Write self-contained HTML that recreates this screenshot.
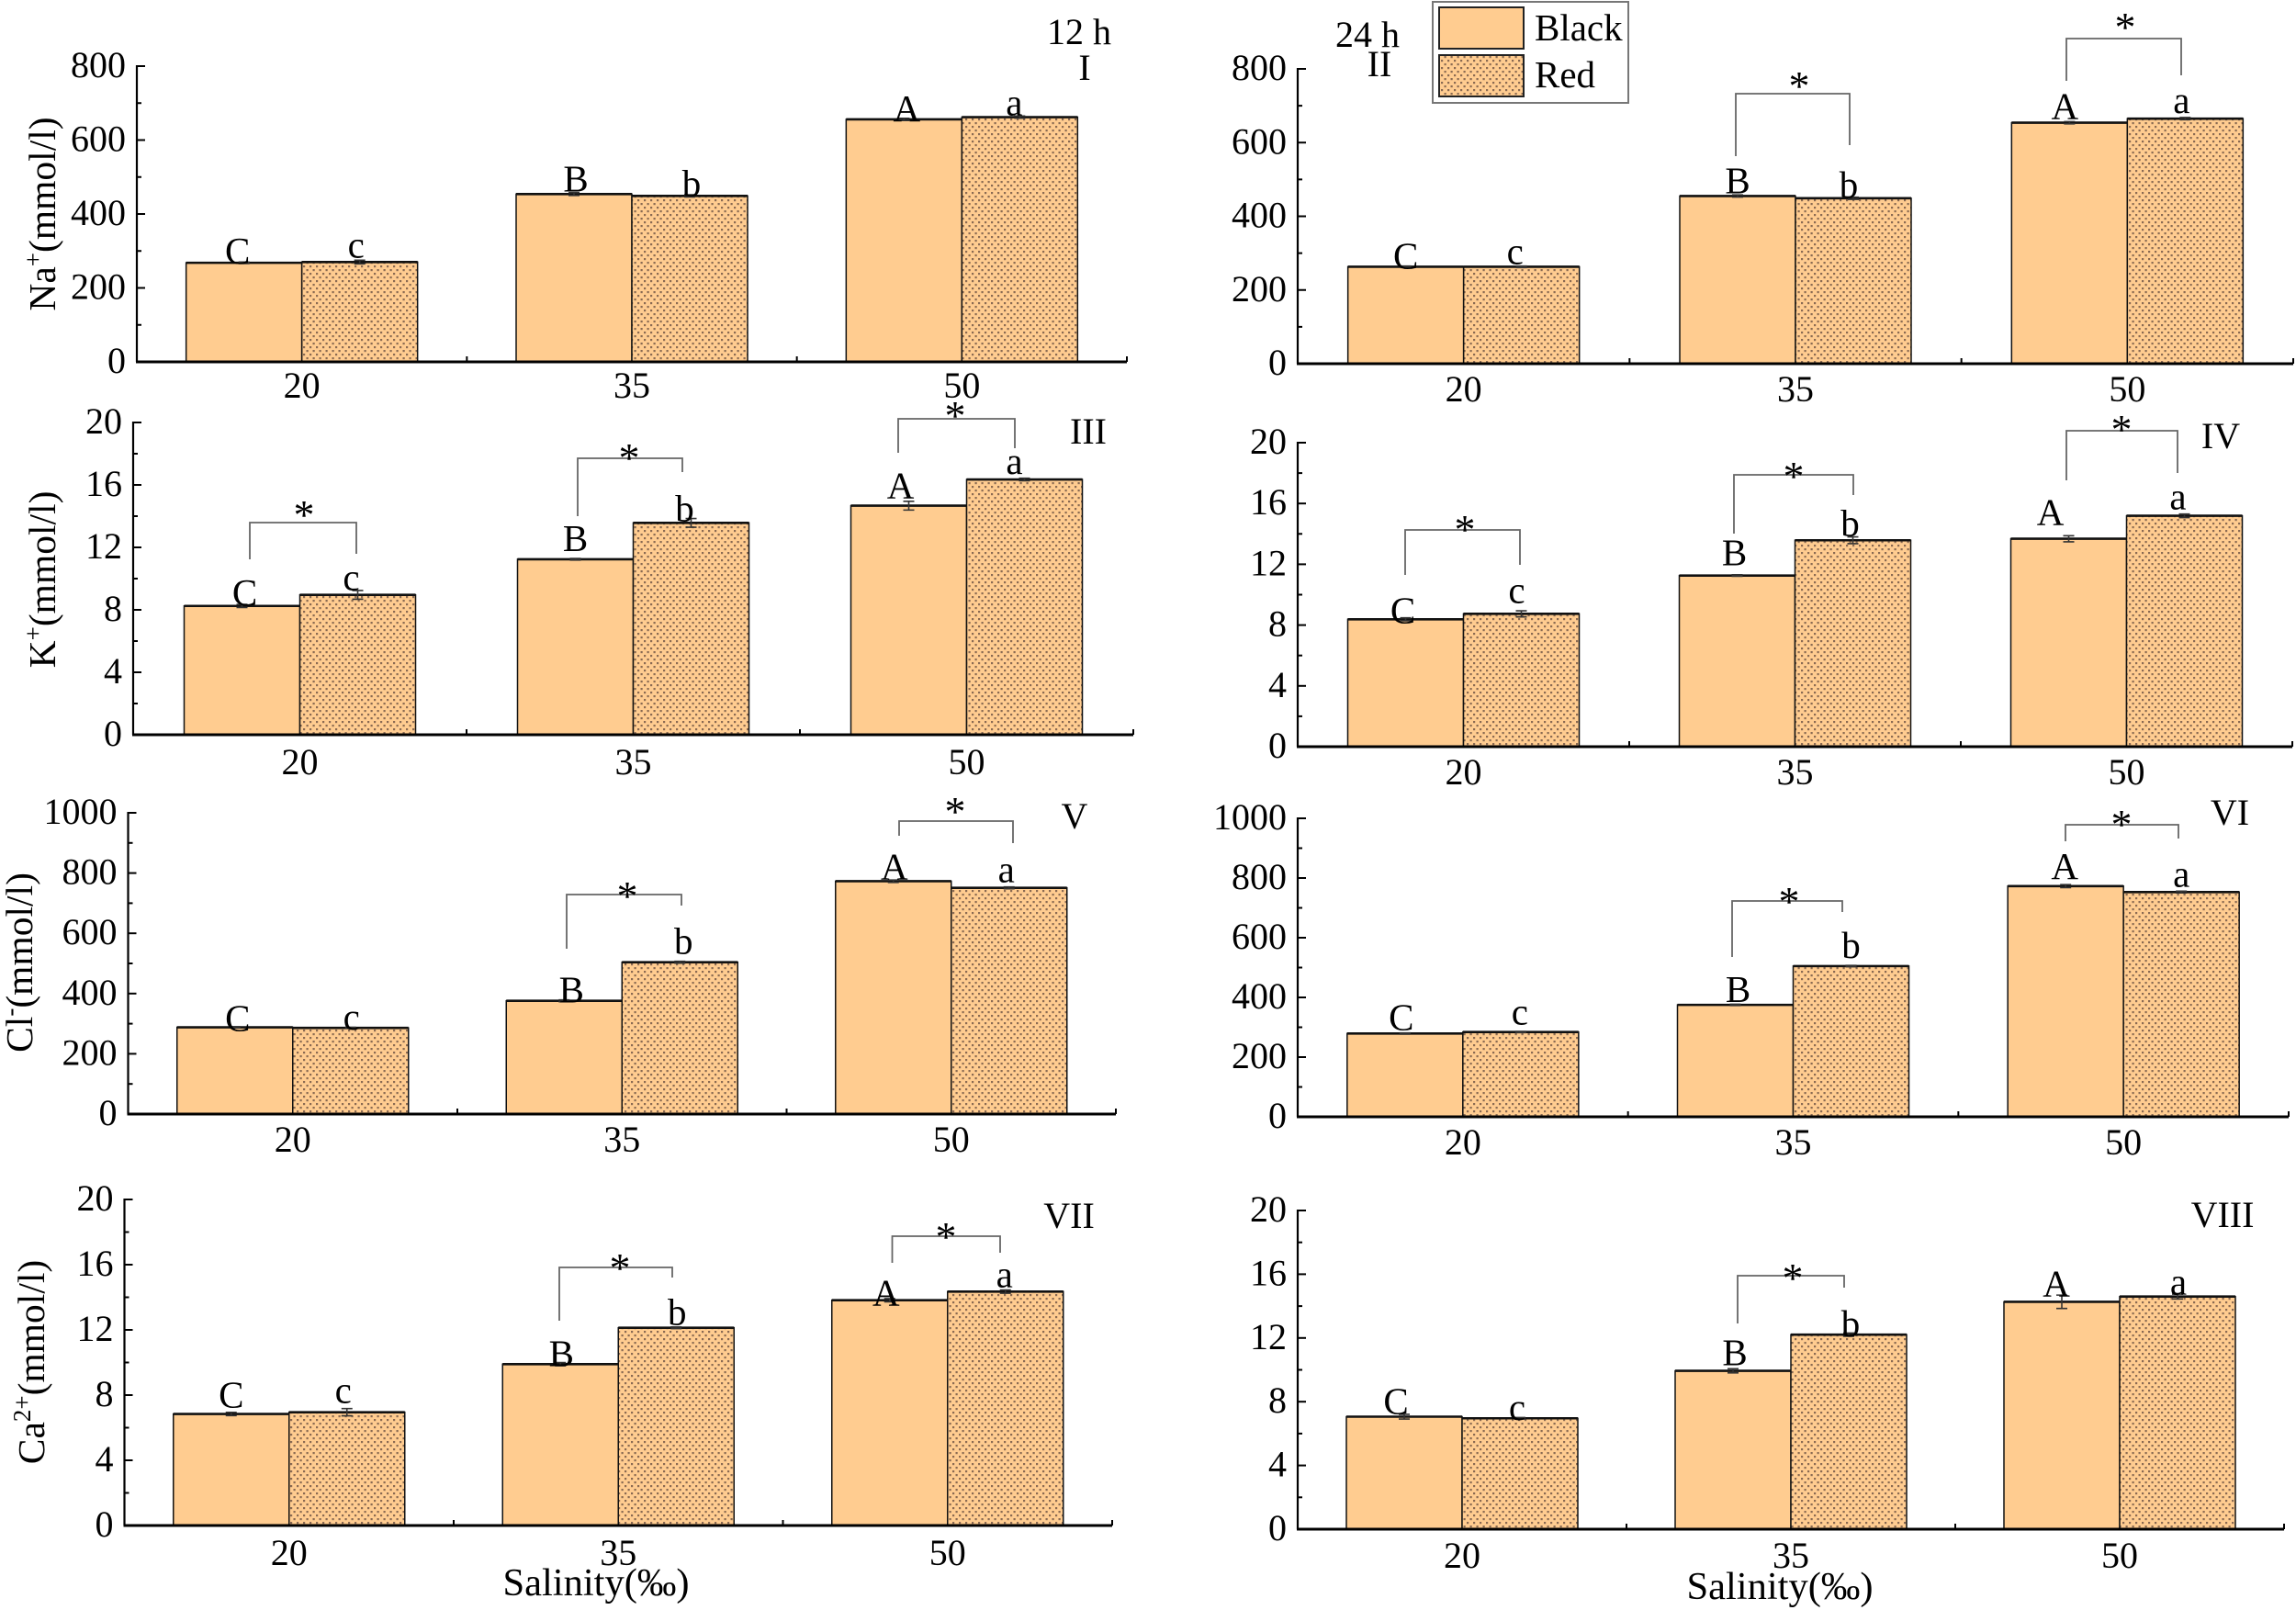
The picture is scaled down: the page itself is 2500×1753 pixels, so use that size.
<!DOCTYPE html>
<html lang="en">
<head>
<meta charset="utf-8">
<title>Ion concentrations by salinity, 12 h and 24 h</title>
<style>
html,body{margin:0;padding:0;background:#fff;}
svg{display:block;}
text{font-family:"Liberation Serif",serif;font-size:40px;fill:#000;}
.axis-title{font-size:41.5px;}
</style>
</head>
<body>
<svg id="figure" width="2500" height="1753" viewBox="0 0 2500 1753" xmlns="http://www.w3.org/2000/svg">
<defs>
<pattern id="dots" width="7" height="8" patternUnits="userSpaceOnUse">
<rect width="7" height="8" fill="#FFCC90"/>
<rect x="1" y="1" width="2.2" height="2.2" fill="#8A6A52"/>
<rect x="4.5" y="5" width="2.2" height="2.2" fill="#8A6A52"/>
</pattern>
</defs>

<text class="axis-title" text-anchor="middle" transform="translate(60 233) rotate(-90)">Na<tspan dy="-15" font-size="27">+</tspan><tspan dy="15">(mmol/l)</tspan></text>
<text class="axis-title" text-anchor="middle" transform="translate(60 631) rotate(-90)">K<tspan dy="-15" font-size="27">+</tspan><tspan dy="15">(mmol/l)</tspan></text>
<text class="axis-title" text-anchor="middle" transform="translate(35 1048) rotate(-90)">Cl<tspan dy="-15" font-size="27">-</tspan><tspan dy="15">(mmol/l)</tspan></text>
<text class="axis-title" text-anchor="middle" transform="translate(48 1483) rotate(-90)">Ca<tspan dy="-15" font-size="27">2+</tspan><tspan dy="15">(mmol/l)</tspan></text>

<text x="649" y="1737" text-anchor="middle" style="font-size:42.5px">Salinity(‰)</text>
<text x="1938" y="1741" text-anchor="middle" style="font-size:42.5px">Salinity(‰)</text>

<text x="1175" y="48" text-anchor="middle">12 h</text>
<text x="1489" y="51" text-anchor="middle">24 h</text>

<text x="1181" y="87" text-anchor="middle">I</text>
<text x="1502" y="83" text-anchor="middle">II</text>
<text x="1185" y="483" text-anchor="middle">III</text>
<text x="2418" y="488" text-anchor="middle">IV</text>
<text x="1170" y="902" text-anchor="middle">V</text>
<text x="2428" y="898" text-anchor="middle">VI</text>
<text x="1164" y="1337" text-anchor="middle">VII</text>
<text x="2420" y="1336" text-anchor="middle">VIII</text>

<g id="panels"></g>

<g>
<rect x="1560" y="2" width="213" height="110" fill="#fff" stroke="#777" stroke-width="2"/>
<rect x="1567" y="8" width="92" height="45" fill="#FFCC90" stroke="#222" stroke-width="2"/>
<rect x="1567" y="60" width="92" height="45" fill="url(#dots)" stroke="#222" stroke-width="2"/>
<text x="1671" y="44" style="font-size:41px">Black</text>
<text x="1671" y="95" style="font-size:41px">Red</text>
</g>
</svg>

<script>
// Chart data
const categories = ['20', '35', '50'];
const blackLetters = ['C', 'B', 'A'];
const redLetters = ['c', 'b', 'a'];

const naTicks = [0, 200, 400, 600, 800];
const smallTicks = [0, 4, 8, 12, 16, 20];
const clTicks = [0, 200, 400, 600, 800, 1000];

const na12Black = [268, 454, 656];
const na12Red = [270, 449, 662];
const na24Black = [263, 455, 654];
const na24Red = [263, 449, 665];
const k12Black = [8.25, 11.24, 14.67];
const k12Red = [8.96, 13.57, 16.35];
const k24Black = [8.38, 11.26, 13.68];
const k24Red = [8.74, 13.58, 15.19];
const cl12Black = [288, 376, 773];
const cl12Red = [286, 504, 751];
const cl24Black = [279, 375, 773];
const cl24Red = [284, 505, 753];
const ca12Black = [6.84, 9.9, 13.82];
const ca12Red = [6.95, 12.13, 14.35];
const ca24Black = [7.06, 9.94, 14.27];
const ca24Red = [6.96, 12.21, 14.6];

const na12BlackErr = [2, 4, 3];
const na12RedErr = [5, 3, 3];
const na24BlackErr = [2, 3, 3];
const na24RedErr = [2, 3, 3];
const k12BlackErr = [0.1, 0.05, 0.28];
const k12RedErr = [0.28, 0.28, 0.08];
const k24BlackErr = [0.1, 0.05, 0.2];
const k24RedErr = [0.2, 0.22, 0.12];
const cl12BlackErr = [2, 3, 4];
const cl12RedErr = [2, 3, 3];
const cl24BlackErr = [2, 2, 5];
const cl24RedErr = [2, 2, 3];
const ca12BlackErr = [0.1, 0.1, 0.1];
const ca12RedErr = [0.22, 0.05, 0.1];
const ca24BlackErr = [0.15, 0.13, 0.42];
const ca24RedErr = [0.05, 0.1, 0.15];

// Layout (geometry only, kept apart from the data)
const panelLayouts = [
  { key: 'na-12h', ticks: naTicks, black: na12Black, red: na12Red, blackErr: na12BlackErr, redErr: na12RedErr,
    left: 149, right: 1227, base: 394, top: 72, labelDy: 39,
    letterDx: [-7, -4, 2, 2, 3, -6], letterDy: [1, -5, -3, 0, 2, -2], brackets: [] },
  { key: 'na-24h', ticks: naTicks, black: na24Black, red: na24Red, blackErr: na24BlackErr, redErr: na24RedErr,
    left: 1413, right: 2497, base: 396, top: 75, labelDy: 41,
    letterDx: [0, -7, 0, -5, -5, -4], letterDy: [2, -3, -3, -1, -4, -6],
    brackets: [[1890, 2014, 102, 170, 158, 1959, 108], [2250, 2375, 42, 88, 82, 2314, 44]] },
  { key: 'k-12h', ticks: smallTicks, black: k12Black, red: k12Red, blackErr: k12BlackErr, redErr: k12RedErr,
    left: 145, right: 1234, base: 800, top: 460, labelDy: 43,
    letterDx: [3, -7, 0, -7, -9, -11], letterDy: [-1, -5, -9, -2, -8, -6],
    brackets: [[272, 388, 569, 609, 603, 331, 575], [629, 743, 499, 562, 514, 685, 513], [978, 1105, 456, 493, 488, 1040, 467]] },
  { key: 'k-24h', ticks: smallTicks, black: k24Black, red: k24Red, blackErr: k24BlackErr, redErr: k24RedErr,
    left: 1413, right: 2496, base: 813, top: 482, labelDy: 41,
    letterDx: [-3, -5, -3, -3, -20, -7], letterDy: [4, -12, -11, -5, -15, -7],
    brackets: [[1530, 1655, 577, 626, 615, 1595, 591], [1888, 2018, 517, 581, 539, 1953, 533], [2250, 2371, 469, 523, 515, 2310, 482]] },
  { key: 'cl-12h', ticks: clTicks, black: cl12Black, red: cl12Red, blackErr: cl12BlackErr, redErr: cl12RedErr,
    left: 139.5, right: 1215, base: 1213, top: 885, labelDy: 41,
    letterDx: [3, 1, 8, 4, 1, -3], letterDy: [4, 2, 2, -9, -2, -6],
    brackets: [[617, 742, 974, 1033, 986, 683, 990], [979, 1103, 894, 910, 918, 1040, 898]] },
  { key: 'cl-24h', ticks: clTicks, black: cl24Black, red: cl24Red, blackErr: cl24BlackErr, redErr: cl24RedErr,
    left: 1413, right: 2492, base: 1216, top: 891, labelDy: 41,
    letterDx: [-4, -1, 3, 0, -1, 0], letterDy: [-4, -8, -3, -9, -8, -6],
    brackets: [[1886, 2006, 981, 1042, 993, 1948, 996], [2249, 2372, 898, 916, 913, 2310, 912]] },
  { key: 'ca-12h', ticks: smallTicks, black: ca12Black, red: ca12Red, blackErr: ca12BlackErr, redErr: ca12RedErr,
    left: 135.5, right: 1211, base: 1661, top: 1306, labelDy: 43,
    letterDx: [0, -4, 1, 1, -4, -1], letterDy: [-7, -10, 2, -3, 6, -5],
    brackets: [[609, 732, 1380, 1438, 1391, 675, 1395], [971.5, 1089, 1346, 1375, 1364, 1030, 1361]] },
  { key: 'ca-24h', ticks: smallTicks, black: ca24Black, red: ca24Red, blackErr: ca24BlackErr, redErr: ca24RedErr,
    left: 1413, right: 2487, base: 1665, top: 1318, labelDy: 42,
    letterDx: [-9, -3, 2, 2, -6, 1], letterDy: [-3, 2, -6, 2, -6, -2],
    brackets: [[1892, 2008, 1389, 1441, 1402, 1952, 1406]] }
];

const SVG_NS = 'http://www.w3.org/2000/svg';
const BAR_WIDTH = 126;
const root = document.getElementById('panels');

function shape(parent, tag, props) {
  const node = document.createElementNS(SVG_NS, tag);
  Object.keys(props).forEach(function (k) { node.setAttribute(k, props[k]); });
  parent.appendChild(node);
  return node;
}

function drawPanel(p) {
  const group = shape(root, 'g', {});
  
  

  const yMax = p.ticks[p.ticks.length - 1];
  const yScale = function (v) { return p.base - (v / yMax) * (p.base - p.top); };
  const bandWidth = (p.right - p.left) / categories.length;
  const xCenter = function (i) { return p.left + (i + 0.5) * bandWidth; };

  // Bars, caps of the error bars and significance letters
  categories.forEach(function (cat, i) {
    [['black', p.black, p.blackErr, blackLetters], ['red', p.red, p.redErr, redLetters]].forEach(function (series, s) {
      const value = series[1][i];
      const err = series[2][i];
      const x = xCenter(i) + (s === 0 ? -BAR_WIDTH : 0);
      const mid = x + BAR_WIDTH / 2;
      const yTop = yScale(value);

      const bar = shape(group, 'rect', { x: x, y: yTop, width: BAR_WIDTH, height: p.base - yTop,
        fill: s === 0 ? '#FFCC90' : 'url(#dots)', stroke: '#111', 'stroke-width': 1.5 });
      
      

      const barTop = shape(group, 'line', { x1: x, x2: x + BAR_WIDTH, y1: yTop, y2: yTop, stroke: '#111', 'stroke-width': 2.6 });
      
      

      const errPath = 'M' + (mid - 6) + ' ' + yScale(value + err) + 'H' + (mid + 6) +
        'M' + mid + ' ' + yScale(value + err) + 'V' + yScale(value - err) +
        'M' + (mid - 6) + ' ' + yScale(value - err) + 'H' + (mid + 6);
      const errBar = shape(group, 'path', { d: errPath, fill: 'none', stroke: '#333', 'stroke-width': 1.6 });
      
      

      const idx = i * 2 + s;
      const letter = shape(group, 'text', { x: mid + p.letterDx[idx], y: yTop + p.letterDy[idx], 'text-anchor': 'middle' });
      letter.style.fontSize = '41px';
      letter.textContent = series[3][i];
      
      
    });
  });

  // Y axis
  const yAxis = shape(group, 'line', { x1: p.left, x2: p.left, y1: p.top - 1, y2: p.base, stroke: '#000', 'stroke-width': 2.2 });
  
  

  p.ticks.forEach(function (t, i) {
    const y = yScale(t);
    const major = shape(group, 'line', { x1: p.left, x2: p.left + 9, y1: y, y2: y, stroke: '#000', 'stroke-width': 2 });
    
    

    const label = shape(group, 'text', { x: p.left - 12, y: y + 12, 'text-anchor': 'end' });
    label.textContent = String(t);
    
    

    if (i < p.ticks.length - 1) {
      const ym = yScale((t + p.ticks[i + 1]) / 2);
      const minor = shape(group, 'line', { x1: p.left, x2: p.left + 5, y1: ym, y2: ym, stroke: '#000', 'stroke-width': 2 });
      
      
    }
  });

  // X axis
  const xAxis = shape(group, 'line', { x1: p.left - 1, x2: p.right, y1: p.base, y2: p.base, stroke: '#000', 'stroke-width': 3 });
  
  

  categories.forEach(function (cat, i) {
    const edge = p.left + (i + 1) * bandWidth;
    const tick = shape(group, 'line', { x1: edge, x2: edge, y1: p.base, y2: p.base - 6, stroke: '#000', 'stroke-width': 2 });
    
    

    const label = shape(group, 'text', { x: xCenter(i), y: p.base + p.labelDy, 'text-anchor': 'middle' });
    label.textContent = cat;
    
    
  });

  // Significance brackets: left x, right x, top y, left end y, right end y, star x, star baseline
  p.brackets.forEach(function (b) {
    const bracket = shape(group, 'path', { d: 'M' + b[0] + ' ' + b[3] + 'V' + b[2] + 'H' + b[1] + 'V' + b[4],
      fill: 'none', stroke: '#666', 'stroke-width': 1.8 });
    
    

    const star = shape(group, 'text', { x: b[5], y: b[6] + 1, 'text-anchor': 'middle' });
    star.style.fontSize = '46px';
    star.textContent = '*';
    
    
  });
}

panelLayouts.forEach(drawPanel);
</script>
</body>
</html>
